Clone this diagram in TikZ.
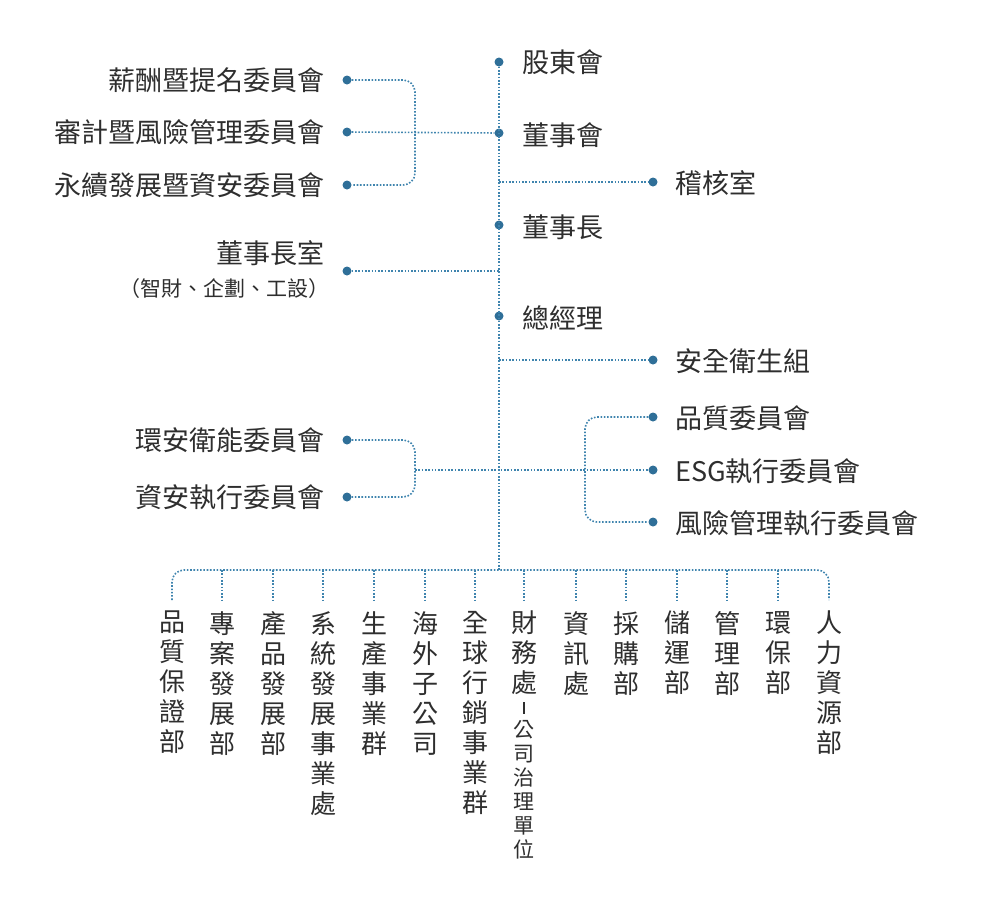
\documentclass[tikz,border=0pt]{standalone}
\usepackage{fontspec}
\setmainfont{Noto Sans CJK TC}
\usetikzlibrary{positioning}
\definecolor{linkblue}{HTML}{3F84AE}
\definecolor{dotblue}{HTML}{2F6F98}
\definecolor{txtgray}{HTML}{2E2E2E}

\begin{document}
\begin{tikzpicture}
	[x=1pt,y=-1pt,
	dotstyle/.style={circle,fill=dotblue,inner sep=0pt,minimum size=9pt},
	linkstyle/.style={linkblue,line width=1.6pt,dash pattern=on 1.6pt off 1.7pt},
	lefttext/.style={anchor=east,text=txtgray,inner sep=0pt,font=\fontsize{27}{30}\selectfont},
	righttext/.style={anchor=west,text=txtgray,inner sep=0pt,font=\fontsize{27}{30}\selectfont},
	verttext/.style={anchor=north,align=center,text=txtgray,inner sep=0pt,font=\fontsize{26}{30}\selectfont}
	]
	\useasboundingbox (0,0) rectangle (1000,906);
	
	%Main line
	\node(Share)[dotstyle] at (499,62) {};
	\node(Board)[dotstyle] at (499,133) {};
	\node(Chair)[dotstyle] at (499,225) {};
	\node(GM)[dotstyle] at (499,316) {};
	\coordinate(BusMid) at (499,570);
	\node[righttext] at (522,62) {股東會};
	\node[righttext] at (522,135) {董事會};
	\node[righttext] at (522,227) {董事長};
	\node[righttext] at (522,318) {總經理};
	\draw[linkstyle] (Share) -- (BusMid);
	
	%Board committees
	\node(Pay)[dotstyle] at (347,80) {};
	\node(Audit)[dotstyle] at (347,132) {};
	\node(Sust)[dotstyle] at (347,185) {};
	\coordinate(BoardJoin) at (415,132);
	\node[lefttext] at (325,80) {薪酬暨提名委員會};
	\node[lefttext] at (325,132) {審計暨風險管理委員會};
	\node[lefttext] at (325,185) {永續發展暨資安委員會};
	\draw[linkstyle,rounded corners=12pt] (Pay) -| (BoardJoin) |- (Sust);
	\draw[linkstyle] (Audit) -- (Board);
	
	%Audit office
	\coordinate(AuditJoin) at (499,182);
	\node(Inner)[dotstyle] at (653,182) {};
	\node[righttext] at (675,183) {稽核室};
	\draw[linkstyle] (AuditJoin) -- (Inner);
	
	%Chairman office
	\node(ChairOff)[dotstyle] at (347,271) {};
	\coordinate(ChairJoin) at (499,271);
	\node[lefttext] at (325,253) {董事長室};
	\node[lefttext,font=\fontsize{21}{24}\selectfont] at (330,289) {（智財、企劃、工設）};
	\draw[linkstyle] (ChairOff) -- (ChairJoin);
	
	%Safety
	\coordinate(SafeJoin) at (499,360);
	\node(Safe)[dotstyle] at (653,360) {};
	\node[righttext] at (675,361) {安全衛生組};
	\draw[linkstyle] (SafeJoin) -- (Safe);
	
	%Management committees
	\node(Env)[dotstyle] at (347,440) {};
	\node(Sec)[dotstyle] at (347,497) {};
	\node[lefttext] at (325,440) {環安衛能委員會};
	\node[lefttext] at (325,497) {資安執行委員會};
	\coordinate(LeftJoin) at (415,470);
	\coordinate(RightJoin) at (585,470);
	\node(Qual)[dotstyle] at (653,417) {};
	\node(ESG)[dotstyle] at (653,470) {};
	\node(Risk)[dotstyle] at (653,522) {};
	\node[righttext] at (675,418) {品質委員會};
	\node[righttext] at (675,471) {ESG執行委員會};
	\node[righttext] at (675,523) {風險管理執行委員會};
	\draw[linkstyle,rounded corners=12pt] (Env) -| (LeftJoin) |- (Sec);
	\draw[linkstyle,rounded corners=12pt] (Qual) -| (RightJoin) |- (Risk);
	\draw[linkstyle] (LeftJoin) -- (ESG);
	
	%Departments
	\foreach \i/\x in {1/172,2/222,3/273,4/323,5/374,6/425,7/475,8/524,9/576,10/626,11/677,12/727,13/778,14/829}{
		\coordinate(Top\i) at (\x,570);
		\coordinate(Low\i) at (\x,600);
	}
	\draw[linkstyle,rounded corners=12pt] (Low1) |- (Top14) -- (Low14);
	\foreach \i in {2,...,13}{
		\draw[linkstyle] (Top\i) -- (Low\i);
	}
	\foreach \i/\x/\t in {1/172/{品\\質\\保\\證\\部},2/222/{專\\案\\發\\展\\部},3/273/{產\\品\\發\\展\\部},
		4/323/{系\\統\\發\\展\\事\\業\\處},5/374/{生\\產\\事\\業\\群},6/425/{海\\外\\子\\公\\司},
		7/475/{全\\球\\行\\銷\\事\\業\\群},8/524/{財\\務\\處},9/576/{資\\訊\\處},10/626/{採\\購\\部},
		11/677/{儲\\運\\部},12/727/{管\\理\\部},13/778/{環\\保\\部},14/829/{人\\力\\資\\源\\部}}{
		\node(Dept\i)[verttext] at (\x,611) {\t};
	}
	\node(DeptSub)[verttext,font=\fontsize{21}{24}\selectfont,below=6pt of Dept8] {\rule{1.5pt}{12pt}\\公\\司\\治\\理\\單\\位};
	
\end{tikzpicture}
\end{document}
